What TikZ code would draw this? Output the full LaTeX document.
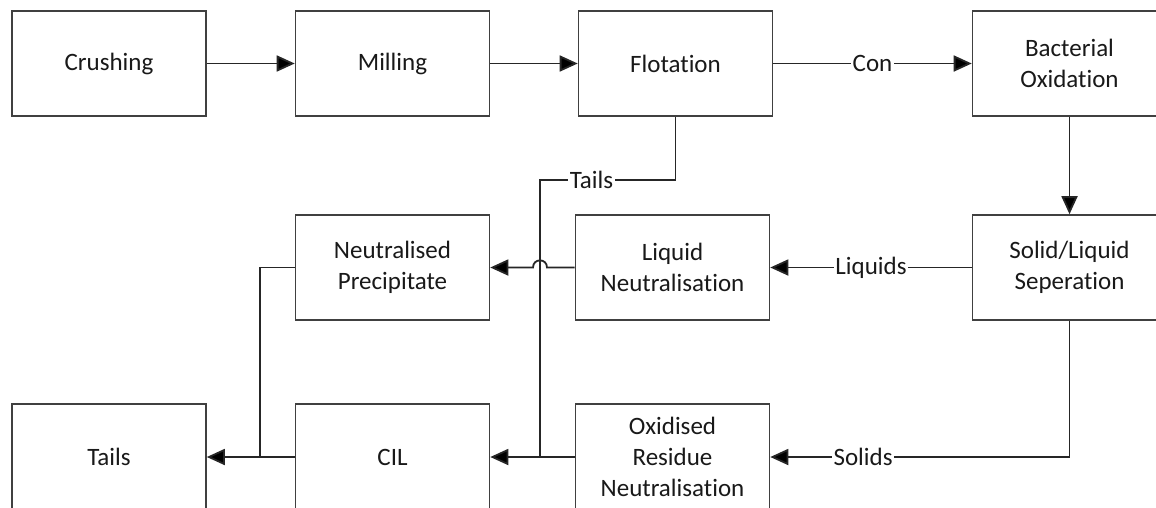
\documentclass[tikz,border=0pt]{standalone}
\usepackage{fontspec}
\setmainfont[RawFeature={-liga;-clig;-calt}]{Carlito}
\usetikzlibrary{arrows.meta}
\begin{document}
\begin{tikzpicture}[x=1pt,y=-1pt,
  box/.style={draw=black!75,line width=1.6pt,minimum width=194pt,minimum height=105pt,
    align=center,inner sep=0pt,font=\fontsize{25}{31}\selectfont,text=black!90},
  lowbox/.style={box,minimum height=106pt},
  flow/.style={draw=black!85,line width=1.8pt,-{Triangle[length=18pt,width=16pt,fill=black]}},
  line/.style={draw=black!85,line width=1.8pt},
  lbl/.style={fill=white,inner sep=1.5pt,font=\fontsize{25}{31}\selectfont,text=black!90}]
\fill[white] (0,0) rectangle (1156,507);
\useasboundingbox (0,0) rectangle (1156,507);
\clip (0,0) rectangle (1156,507);
% row 1
\node[box] (crush) at (109,63.5) {Crushing};
\node[box] (mill) at (392.5,63.5) {Milling};
\node[box] (flot) at (675.5,63.5) {Flotation};
\node[box] (bact) at (1069.5,63.5) {Bacterial\\Oxidation};
% row 2
\node[box] (np) at (392.5,267.5) {Neutralised\\Precipitate};
\node[box] (ln) at (672.5,267.5) {Liquid\\Neutralisation};
\node[box] (sl) at (1069.5,267.5) {Solid/Liquid\\Seperation};
% row 3
\node[lowbox] (tails) at (109,457) {Tails};
\node[lowbox] (cil) at (392.5,457) {CIL};
\node[lowbox] (orn) at (672.5,457) {Oxidised\\Residue\\Neutralisation};
% junction points
\coordinate (tj) at (540,457);
\coordinate (nj) at (260,457);
% connectors
\draw[flow] (crush) -- (mill);
\draw[flow] (mill) -- (flot);
\draw[flow] (flot) -- node[lbl]{Con} (bact);
\draw[flow] (bact) -- (sl);
\draw[flow] (sl) -- node[lbl]{Liquids} (ln);
\draw[flow] (sl.south) -- (sl.south |- orn.east) -- node[lbl,pos=0.69]{Solids} (orn.east);
\draw[flow] (ln.west) -- (547,267.5) .. controls (547,258) and (533,258) .. (533,267.5) -- (np.east);
\draw[line] (flot.south) -- (flot.south |- 0,180) -- node[lbl,pos=0.62]{Tails} (540,180) -- (tj);
\draw[flow] (orn.west) -- (cil.east);
\draw[line] (np.west) -- (260,267.5) -- (nj);
\draw[flow] (cil.west) -- (tails.east);
\end{tikzpicture}
\end{document}
